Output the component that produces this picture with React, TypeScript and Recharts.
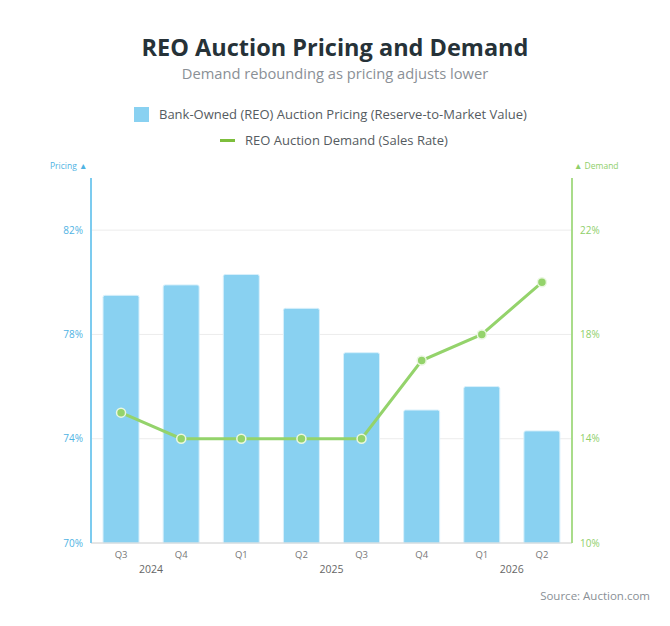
import React from "react";
import { ComposedChart, Bar, Line, XAxis, YAxis, CartesianGrid } from "recharts";

const quarters = ["Q3", "Q4", "Q1", "Q2", "Q3", "Q4", "Q1", "Q2"];
const years = ["2024", "", "", "2025", "", "", "2026", ""];
const pricing = [79.5, 79.9, 80.3, 79.0, 77.3, 75.1, 76.0, 74.3];
const demand = [15, 14, 14, 14, 14, 17, 18, 20];
const pricingTicks = [70, 74, 78, 82];
const demandTicks = [10, 14, 18, 22];

const data = quarters.map((q, i) => ({ q, year: years[i], pricing: pricing[i], demand: demand[i], idx: i }));

const FONT = "'Open Sans', 'Noto Sans', sans-serif";
const BLUE = "#89D1F1";
const BLUE_TEXT = "#4FB3E3";
const GREEN = "#94D36B";
const GREEN_TEXT = "#8FCF6A";

const XTick = (props: any) => {
  const { x, y, payload } = props;
  const off = payload && payload.offset ? payload.offset : 30;
  const yr = years[payload.index];
  return (
    <g>
      <text x={x} y={y} dy={7} textAnchor="middle" fontSize={9.5} fill="#777" fontFamily={FONT}>
        {payload.value}
      </text>
      {yr ? (
        <text x={x + off} y={y} dy={22} textAnchor="middle" fontSize={10.5} fill="#666" fontFamily={FONT}>
          {yr}
        </text>
      ) : null}
    </g>
  );
};

const GridLine = (p: any) => {
  if (typeof p.y === "number" && Math.abs(p.y1 - p.y) < 1) return <g key={p.key} />;
  return <line key={p.key} x1={p.x1} y1={p.y1} x2={p.x2} y2={p.y2} stroke="#ececec" strokeWidth={1} fill="none" />;
};

export default function App() {
  return (
    <div style={{ position: "absolute", left: 0, top: 0, width: 670, height: 626, background: "#fff", fontFamily: FONT }}>
      <div style={{ position: "absolute", top: 31, width: 670, textAlign: "center", fontSize: 23.5, fontWeight: 700, color: "#263238" }}>
        REO Auction Pricing and Demand
      </div>
      <div style={{ position: "absolute", top: 63, width: 670, textAlign: "center", fontSize: 14.7, color: "#8a9096" }}>
        Demand rebounding as pricing adjusts lower
      </div>
      <div style={{ position: "absolute", top: 105, left: 134, display: "flex", alignItems: "center", fontSize: 13, color: "#555b61" }}>
        <span style={{ display: "inline-block", width: 15, height: 15, background: BLUE, marginRight: 10 }} />
        Bank-Owned (REO) Auction Pricing (Reserve-to-Market Value)
      </div>
      <div style={{ position: "absolute", top: 131, left: 220, display: "flex", alignItems: "center", fontSize: 13, color: "#555b61" }}>
        <span style={{ display: "inline-block", width: 15, height: 3, background: "#7DBE3C", marginRight: 10 }} />
        REO Auction Demand (Sales Rate)
      </div>
      <div style={{ position: "absolute", top: 160, left: 50, fontSize: 8.5, color: BLUE_TEXT }}>Pricing ▲</div>
      <div style={{ position: "absolute", top: 160, left: 574, fontSize: 8.5, color: GREEN_TEXT }}>▲ Demand</div>
      <div style={{ position: "absolute", top: 588, right: 20, fontSize: 11.5, color: "#8a9096" }}>Source: Auction.com</div>
      <div style={{ position: "absolute", left: 0, top: 0 }}>
        <ComposedChart width={670} height={626} data={data} margin={{ top: 178, right: 0, left: 0, bottom: 43 }} barCategoryGap="20%">
          <CartesianGrid vertical={false} stroke="#ececec" yAxisId="left" horizontal={GridLine} />
          <XAxis
            dataKey="q"
            interval={0}
            tick={<XTick />}
            tickLine={false}
            axisLine={{ stroke: "#d6d6d6" }}
            height={40}
          />
          <YAxis
            yAxisId="left"
            domain={[70, 84]}
            ticks={pricingTicks}
            tickFormatter={(v: number) => `${v}%`}
            width={91}
            tickLine={false}
            axisLine={{ stroke: "#7CCBEF", strokeWidth: 2 }}
            tick={{ fill: BLUE_TEXT, fontSize: 10, fontFamily: FONT }}
          />
          <YAxis
            yAxisId="right"
            orientation="right"
            domain={[10, 24]}
            ticks={demandTicks}
            tickFormatter={(v: number) => `${v}%`}
            width={98}
            tickLine={false}
            axisLine={{ stroke: "#A9DC8A", strokeWidth: 2 }}
            tick={{ fill: GREEN_TEXT, fontSize: 10, fontFamily: FONT, textAnchor: "start" }}
          />
          <Bar yAxisId="left" dataKey="pricing" fill={BLUE} stroke="#d8f0fb" strokeWidth={1} radius={[2, 2, 0, 0]} isAnimationActive={false} />
          <Line
            yAxisId="right"
            dataKey="demand"
            type="linear"
            stroke={GREEN}
            strokeWidth={3}
            dot={{ r: 4.5, fill: GREEN, stroke: "#eaf7e0", strokeWidth: 1.5 }}
            activeDot={false}
            isAnimationActive={false}
          />
        </ComposedChart>
      </div>
    </div>
  );
}
